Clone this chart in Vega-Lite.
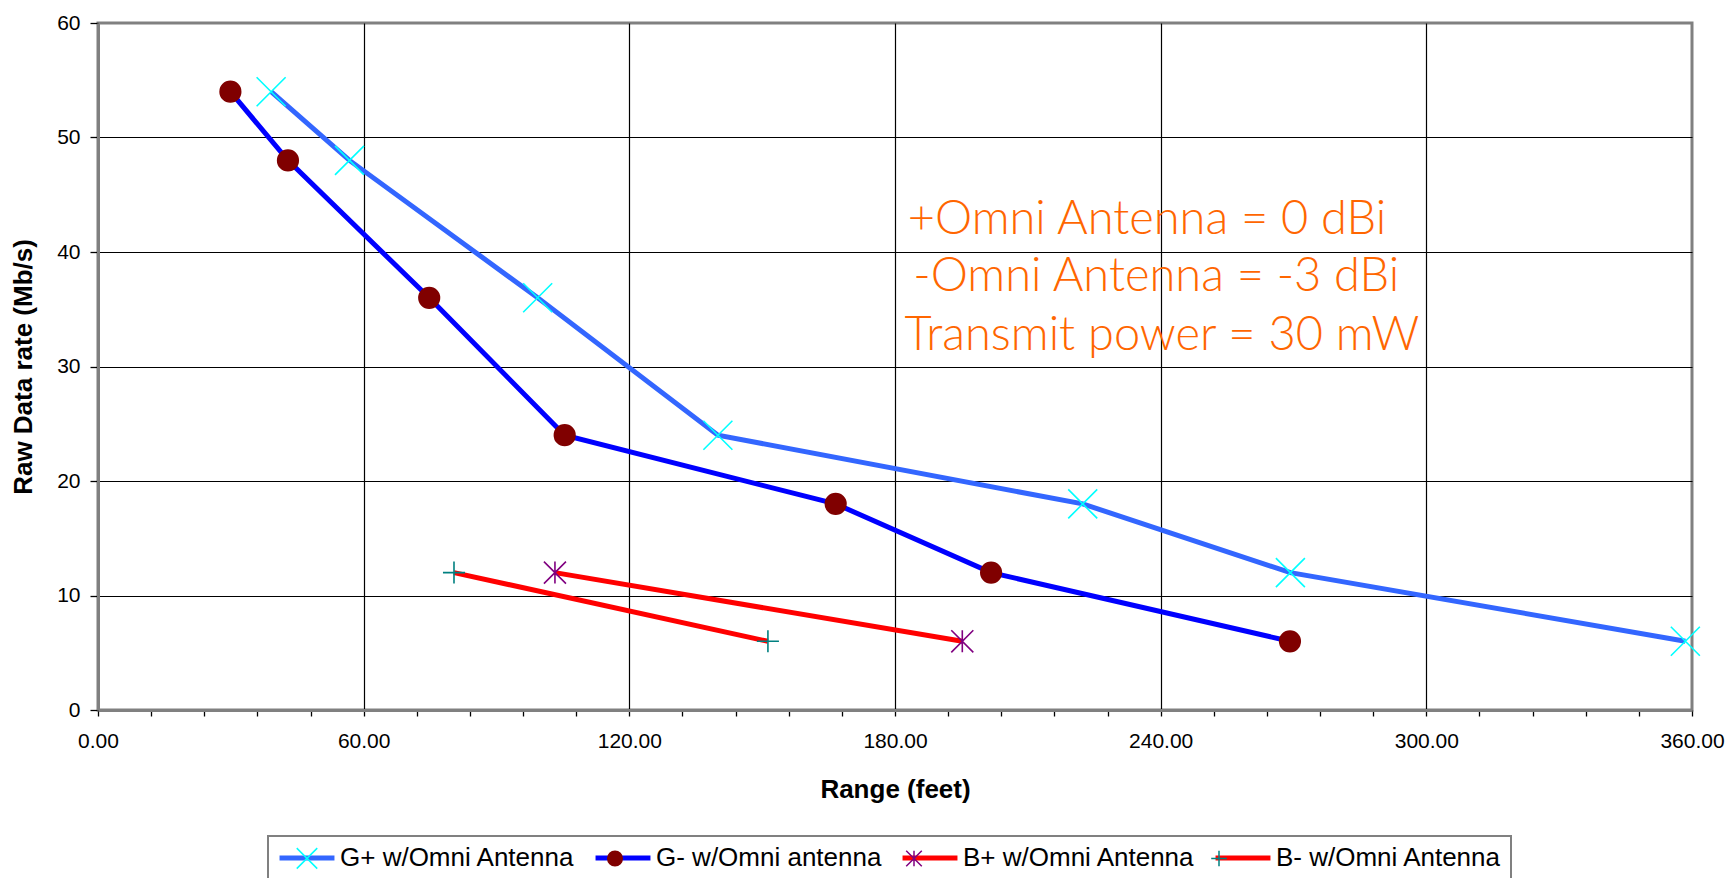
{
  "$schema": "https://vega.github.io/schema/vega-lite/v6.json",
  "width": 1594,
  "height": 687,
  "autosize": {"type": "none"},
  "padding": {"left": 98, "top": 23, "right": 39, "bottom": 168},
  "background": "white",
  "config": {
    "font": "Liberation Sans",
    "view": {"stroke": "#808080", "strokeWidth": 3},
    "axis": {
      "labelFont": "Liberation Sans", "labelFontSize": 21, "labelColor": "#000",
      "titleFont": "Liberation Sans", "titleFontSize": 26, "titleFontWeight": "bold", "titleColor": "#000",
      "domainColor": "#808080", "domainWidth": 3,
      "tickColor": "#000", "tickWidth": 1.3, "gridWidth": 1.2,
      "labelOverlap": false, "labelFlush": false, "labelBound": false
    }
  },
  "datasets": {
    "points": [
      {"series": "G+ w/Omni Antenna", "range": 39.1, "rate": 54},
      {"series": "G+ w/Omni Antenna", "range": 56.8, "rate": 48},
      {"series": "G+ w/Omni Antenna", "range": 99.3, "rate": 36},
      {"series": "G+ w/Omni Antenna", "range": 140.0, "rate": 24},
      {"series": "G+ w/Omni Antenna", "range": 222.4, "rate": 18},
      {"series": "G+ w/Omni Antenna", "range": 269.3, "rate": 12},
      {"series": "G+ w/Omni Antenna", "range": 358.5, "rate": 6},
      {"series": "G- w/Omni antenna", "range": 29.9, "rate": 54},
      {"series": "G- w/Omni antenna", "range": 42.9, "rate": 48},
      {"series": "G- w/Omni antenna", "range": 74.8, "rate": 36},
      {"series": "G- w/Omni antenna", "range": 105.4, "rate": 24},
      {"series": "G- w/Omni antenna", "range": 166.6, "rate": 18},
      {"series": "G- w/Omni antenna", "range": 201.7, "rate": 12},
      {"series": "G- w/Omni antenna", "range": 269.2, "rate": 6},
      {"series": "B+ w/Omni Antenna", "range": 103.2, "rate": 12},
      {"series": "B+ w/Omni Antenna", "range": 195.2, "rate": 6},
      {"series": "B- w/Omni Antenna", "range": 80.4, "rate": 12},
      {"series": "B- w/Omni Antenna", "range": 151.3, "rate": 6}
    ],
    "notes": [
      {"range": 236.9, "rate": 41.53, "note": "+Omni Antenna = 0 dBi"},
      {"range": 239.0, "rate": 36.58, "note": "-Omni Antenna = -3 dBi"},
      {"range": 240.3, "rate": 31.48, "note": "Transmit power = 30 mW"}
    ]
  },
  "data": {"name": "points"},
  "encoding": {
    "x": {
      "field": "range", "type": "quantitative",
      "scale": {"domain": [0, 360], "nice": false, "zero": false},
      "axis": {
        "title": "Range (feet)",
        "values": [0,12,24,36,48,60,72,84,96,108,120,132,144,156,168,180,192,204,216,228,240,252,264,276,288,300,312,324,336,348,360],
        "labelExpr": "datum.value % 60 === 0 ? format(datum.value, '.2f') : ''",
        "tickSize": 6, "labelPadding": 14, "titlePadding": 25,
        "gridColor": {"condition": {"test": "datum.value % 60 === 0 && datum.value > 0 && datum.value < 360", "value": "#000"}, "value": "transparent"}
      }
    },
    "y": {
      "field": "rate", "type": "quantitative",
      "scale": {"domain": [0, 60], "nice": false, "zero": false},
      "axis": {
        "title": "Raw Data rate (Mb/s)",
        "values": [0,10,20,30,40,50,60],
        "tickSize": 8, "labelPadding": 10, "titlePadding": 20,
        "gridColor": {"condition": {"test": "datum.value > 0 && datum.value < 60", "value": "#000"}, "value": "transparent"}
      }
    }
  },
  "layer": [
    {
      "mark": {"type": "line", "strokeWidth": 5},
      "encoding": {
        "color": {
          "field": "series", "type": "nominal",
          "sort": ["G+ w/Omni Antenna", "G- w/Omni antenna", "B+ w/Omni Antenna", "B- w/Omni Antenna"],
          "scale": {"range": ["#3366FF", "#0000FF", "#FF0000", "#FF0000"]},
          "legend": {
            "orient": "none", "legendX": 170, "legendY": 813, "direction": "horizontal", "columns": 4,
            "title": null, "symbolType": "M-2.68,0L2.68,0", "symbolSize": 420, "symbolStrokeWidth": 5, "symbolOpacity": 1,
            "symbolOffset": 17,
            "labelFont": "Liberation Sans", "labelFontSize": 26, "labelColor": "#000", "labelOffset": 20, "labelLimit": 0,
            "columnPadding": 10, "padding": 9, "strokeColor": "#808080",
            "encode": {"legend": {"update": {"strokeWidth": {"value": 2}}}}
          }
        }
      }
    },
    {
      "mark": {"type": "point", "filled": true, "opacity": 1, "size": 841, "strokeWidth": 1.6},
      "encoding": {
        "fill": {
          "field": "series", "type": "nominal",
          "scale": {"domain": ["G+ w/Omni Antenna", "G- w/Omni antenna", "B+ w/Omni Antenna", "B- w/Omni Antenna"], "range": ["transparent", "#800000", "transparent", "transparent"]},
          "legend": {
            "orient": "none", "legendX": 170, "legendY": 813, "direction": "horizontal", "columns": 4,
            "title": null, "symbolSize": 420, "symbolStrokeWidth": 5, "symbolOpacity": 1, "symbolOffset": 17,
            "labelFont": "Liberation Sans", "labelFontSize": 26, "labelColor": "#000", "labelOpacity": 0, "labelOffset": 20, "labelLimit": 0,
            "columnPadding": 10, "padding": 9, "strokeColor": "transparent",
            "encode": {"symbols": {"update": {"strokeWidth": {"value": 1.5}}}}
          }
        },
        "stroke": {
          "field": "series", "type": "nominal",
          "scale": {"domain": ["G+ w/Omni Antenna", "G- w/Omni antenna", "B+ w/Omni Antenna", "B- w/Omni Antenna"], "range": ["#00FFFF", "#800000", "#800080", "#008080"]},
          "legend": {
            "orient": "none", "legendX": 170, "legendY": 813, "direction": "horizontal", "columns": 4,
            "title": null, "symbolSize": 420, "symbolStrokeWidth": 5, "symbolOpacity": 1, "symbolOffset": 17,
            "labelFont": "Liberation Sans", "labelFontSize": 26, "labelColor": "#000", "labelOpacity": 0, "labelOffset": 20, "labelLimit": 0,
            "columnPadding": 10, "padding": 9, "strokeColor": "transparent",
            "encode": {"symbols": {"update": {"strokeWidth": {"value": 1.5}}}}
          }
        },
        "shape": {
          "field": "series", "type": "nominal",
          "scale": {"domain": ["G+ w/Omni Antenna", "G- w/Omni antenna", "B+ w/Omni Antenna", "B- w/Omni Antenna"], "range": [
            "M-1,-1L1,1M-1,1L1,-1",
            "M0.71,0A0.71,0.71,0,1,1,-0.71,0A0.71,0.71,0,1,1,0.71,0Z",
            "M-0.76,-0.76L0.76,0.76M-0.76,0.76L0.76,-0.76M0,-0.76L0,0.76",
            "M-0.76,0L0.76,0M0,-0.76L0,0.76"
          ]},
          "legend": {
            "orient": "none", "legendX": 170, "legendY": 813, "direction": "horizontal", "columns": 4,
            "title": null, "symbolSize": 420, "symbolStrokeWidth": 5, "symbolOpacity": 1, "symbolOffset": 17,
            "labelFont": "Liberation Sans", "labelFontSize": 26, "labelColor": "#000", "labelOpacity": 0, "labelOffset": 20, "labelLimit": 0,
            "columnPadding": 10, "padding": 9, "strokeColor": "transparent",
            "encode": {"symbols": {"update": {"strokeWidth": {"value": 1.5}}}}
          }
        }
      }
    },
    {
      "data": {"name": "notes"},
      "mark": {"type": "text", "font": "Lato", "fontWeight": 300, "fontSize": 47, "color": "#FF6600", "align": "center", "baseline": "alphabetic"},
      "encoding": {
        "text": {"field": "note", "type": "nominal"}
      }
    }
  ]
}
